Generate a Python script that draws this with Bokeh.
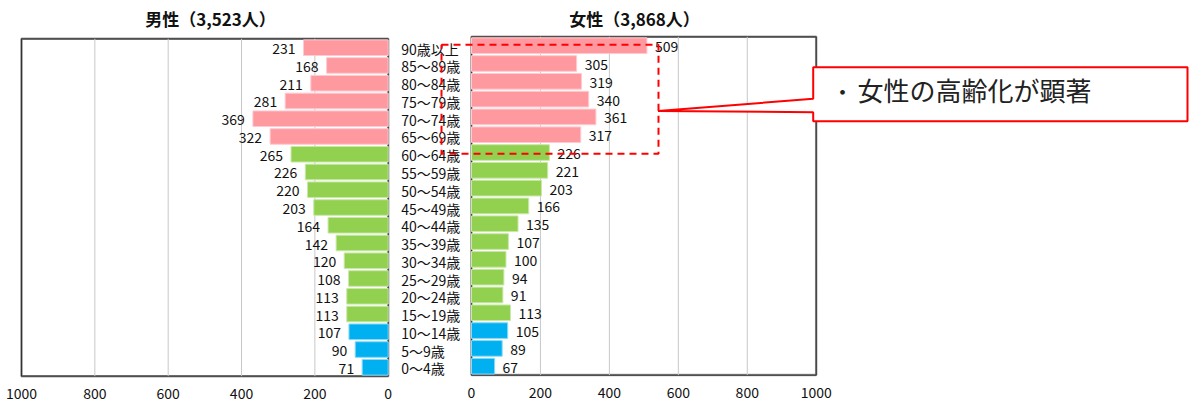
import numpy as np
from bokeh.plotting import figure
from bokeh.models import Range1d
from bokeh.core.properties import value
from bokeh.embed import file_html
from bokeh.resources import INLINE

# ---- data -------------------------------------------------------------
ages = ["0～4歳", "5～9歳", "10～14歳", "15～19歳", "20～24歳", "25～29歳",
        "30～34歳", "35～39歳", "40～44歳", "45～49歳", "50～54歳", "55～59歳",
        "60～64歳", "65～69歳", "70～74歳", "75～79歳", "80～84歳", "85～89歳",
        "90歳以上"]
male = [71, 90, 107, 113, 113, 108, 120, 142, 164, 203, 220, 226, 265,
        322, 369, 281, 211, 168, 231]
female = [67, 89, 105, 113, 91, 94, 100, 107, 135, 166, 203, 221, 226,
          317, 361, 340, 319, 305, 509]
male_title = "男性（3,523人）"
female_title = "女性（3,868人）"
axis_ticks = [0, 200, 400, 600, 800, 1000]
note_text = "女性の高齢化が顕著"

W, H = 1203, 403
FONT = value("Noto Sans CJK JP")

# ---- page geometry (pixels) -------------------------------------------
# each panel: pixel x of value 0 and value 1000, pixel y (from top) of first / last row
L_X0, L_X1 = 387.7, 21.0
R_X0, R_X1 = 471.0, 815.7
L_Y0, L_Y18 = 366.8, 47.2
R_Y0, R_Y18 = 365.7, 45.2


def x_range_for(px0, px1):
    k = (px1 - px0) / 1000.0
    return Range1d(start=-px0 / k, end=(W - px0) / k)


def y_range_for(py0, py18):
    k = (py0 - py18) / 18.0
    return Range1d(start=-(H - py0) / k, end=18 + py18 / k)


def rx(px):  # pixel -> right panel x value
    return (px - R_X0) * 1000.0 / (R_X1 - R_X0)


def ry(py):  # pixel -> right panel y value
    k = (R_Y0 - R_Y18) / 18.0
    return 18 + (R_Y18 - py) / k


p = figure(width=W, height=H, output_backend="svg", toolbar_location=None,
           x_range=x_range_for(R_X0, R_X1), y_range=y_range_for(R_Y0, R_Y18),
           x_axis_location=None, y_axis_location=None, min_border=0,
           background_fill_color="white", border_fill_color="white")
p.outline_line_color = None
p.xgrid.visible = False
p.ygrid.visible = False
p.extra_x_ranges = {"left": x_range_for(L_X0, L_X1)}
p.extra_y_ranges = {"left": y_range_for(L_Y0, L_Y18)}

idx = np.arange(len(ages))
fills = ["#00B0F0"] * 3 + ["#92D050"] * 10 + ["#FF99A0"] * 6
edges = ["#8AD9F7"] * 3 + ["#C9E8A8"] * 10 + ["#FFCBD0"] * 6

panels = [
    dict(xr="left", yr="left", vals=male, sign=-1),
    dict(xr="default", yr="default", vals=female, sign=1),
]

for pn in panels:
    kw = dict(x_range_name=pn["xr"], y_range_name=pn["yr"])
    # plot area frame
    p.quad(left=0, right=1000, bottom=-0.5, top=18.5, fill_color="white",
           line_color="#A6A6A6", line_width=2.5, **kw)
    p.quad(left=0, right=1000, bottom=-0.5, top=18.5, fill_color=None,
           line_color="#333333", line_width=1.2, **kw)
    # vertical gridlines
    inner = [t for t in axis_ticks if 0 < t < 1000]
    p.segment(x0=inner, x1=inner, y0=-0.5, y1=18.5, line_color="#C8C8C8",
              line_width=1, **kw)
    # bars
    p.hbar(y=idx, left=0, right=pn["vals"], height=0.88, fill_color=fills,
           line_color=edges, line_width=1, **kw)
    # value labels
    p.text(x=pn["vals"], y=idx, text=[str(v) for v in pn["vals"]],
           x_offset=8 * pn["sign"], y_offset=1,
           text_align="right" if pn["sign"] < 0 else "left",
           text_baseline="middle", text_font=FONT, text_font_size="14px",
           text_color="#111111", **kw)
    # tick labels
    p.text(x=axis_ticks, y=-1.47, text=[str(t) for t in axis_ticks],
           text_align="center", text_baseline="middle", text_font=FONT,
           text_font_size="14px", text_color="#111111", **kw)

# panel titles
p.text(x=[rx(210), rx(634)], y=[ry(18), ry(18)],
       text=[male_title, female_title], text_align="center",
       text_baseline="middle", text_font=FONT, text_font_size="17px",
       text_font_style="bold", text_color="#111111")

# age group labels between the panels
p.text(x=rx(400.7), y=idx, text=ages, y_offset=1, y_range_name="left",
       text_align="left", text_baseline="middle", text_font=FONT,
       text_font_size="14px", text_color="#111111")

# dashed highlight around 60歳以上 rows
dx0, dx1 = rx(441), rx(658)
dy0, dy1 = ry(153.3), ry(44.3)
p.line(x=[dx0, dx1, dx1, dx0, dx0], y=[dy1, dy1, dy0, dy0, dy1],
       line_color="#FF0000", line_width=2, line_dash="7 5")

# callout box with pointer
bx0, bx1 = rx(812.7), rx(1187)
by_top, by_bot = ry(66.7), ry(120.7)
tip_x, tip_y = rx(657.5), ry(110.5)
p.patch(x=[bx0, bx1, bx1, bx0, bx0, tip_x, bx0],
        y=[by_top, by_top, by_bot, by_bot, ry(111.7), tip_y, ry(98.3)],
        fill_color="white", line_color="#FF0000", line_width=2)
p.text(x=[rx(842)], y=[ry(89)], text=["・"], text_align="center",
       text_baseline="middle", text_font=FONT, text_font_size="22px",
       text_color="#222222")
p.text(x=[rx(857)], y=[ry(89)], text=[note_text], text_align="left",
       text_baseline="middle", text_font=FONT, text_font_size="26px",
       text_color="#222222")

open("out.html", "w").write(file_html(p, INLINE))
